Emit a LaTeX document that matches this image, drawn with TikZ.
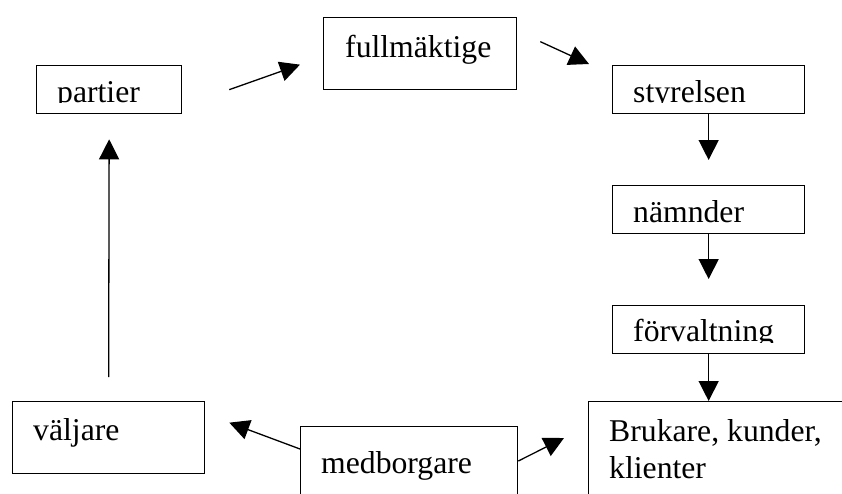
\documentclass[tikz,border=0pt]{standalone}
\usepackage{fontspec}
\setmainfont{Liberation Serif}
\usetikzlibrary{arrows.meta, calc, positioning}
\tikzset{
    box/.style={draw, line width=1.3pt, inner sep=0pt, anchor=north west}, % plain rectangles
    lbl/.style={anchor=base west, inner sep=0pt, align=left, font=\fontsize{31.7}{37}\selectfont}, % box texts
    arr/.style={line width=1.3pt, -{Triangle[length=20pt,width=20pt]}}, % big filled heads
}

\begin{document}
\begin{tikzpicture}[x=1pt,y=-1pt]
    \clip (0,0) rectangle (842,493);

    % boxes
    \node[box, minimum width=145pt, minimum height=48pt] (partier) at (36,65) {};
    \node[box, minimum width=193pt, minimum height=72pt] (fullm) at (323,17) {};
    \node[box, minimum width=192pt, minimum height=48pt] (styrelsen) at (612,65) {};
    \node[box, minimum width=192pt, minimum height=48pt] (namnder) at (612,185) {};
    \node[box, minimum width=192pt, minimum height=48pt] (forvaltning) at (612,305) {};
    \node[box, minimum width=262pt, minimum height=120pt] (brukare) at (588,401) {};
    \node[box, minimum width=217pt, minimum height=95pt] (medborgare) at (300,426) {};
    \node[box, minimum width=192pt, minimum height=72pt] (valjare) at (12,401) {};

    % texts (some are cut off at the bottom)
    \begin{scope}
        \clip (36,65) rectangle (181,102.5);
        \node[lbl] (partiertxt) at (57,102) {partier};
    \end{scope}
    \begin{scope}
        \clip (612,65) rectangle (804,102.5);
        \node[lbl] (styrelsentxt) at (633,102) {styrelsen};
    \end{scope}
    \begin{scope}
        \clip (612,305) rectangle (804,342);
        \node[lbl] (forvaltningtxt) at (633,341) {förvaltning};
    \end{scope}
    \node[lbl] (fullmtxt) at (345,57) {fullmäktige};
    \node[lbl] (namndertxt) at (633,222.5) {nämnder};
    \node[lbl] (valjaretxt) at (33,440.5) {väljare};
    \node[lbl] (medborgaretxt) at (321,473) {medborgare};
    \node[lbl] (bruakretxt) at (609,478) {Brukare, kunder,\\klienter};

    % arrows
    \draw[arr] ($(partier.east)+(47,0)$) -- ($(fullm.west)+(-23,11)$);
    \draw[arr] ($(fullm.east)+(23,-12)$) -- ($(styrelsen.north west)+(-23,-1)$);
    \draw[arr] (styrelsen.south) -- ($(namnder.north)+(0,-25)$);
    \draw[arr] (namnder.south) -- ($(forvaltning.north)+(0,-26)$);
    \draw[arr] (forvaltning.south) -- (forvaltning.south |- brukare.north);
    \draw[arr] ($(medborgare.north west)+(0,23)$) -- ($(valjare.east)+(24,-15)$);
    \draw[arr] ($(medborgare.north east)+(0,35)$) -- ($(brukare.north west)+(-24,37)$);
    \draw[arr] ($(valjare.north)+(0,-24)$) -- ($(partier.south)+(0,25)$);
\end{tikzpicture}
\end{document}
